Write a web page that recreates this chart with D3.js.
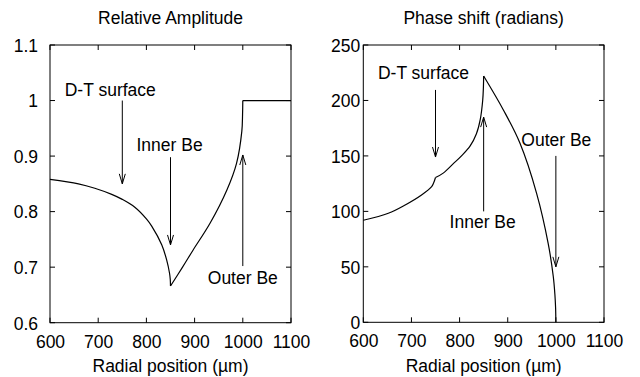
<!DOCTYPE html>
<html>
<head>
<meta charset="utf-8">
<script src="https://cdn.jsdelivr.net/npm/d3@7"></script>
<style>
  html, body { margin: 0; padding: 0; background: #fff; }
  svg { display: block; }
  text { font-family: "Liberation Sans", Arial, Helvetica, sans-serif; fill: #000; }
</style>
</head>
<body>
<svg id="chart" width="640" height="377"></svg>
<script>
// Radial profiles across the capsule shell
const radialTicks = [600, 700, 800, 900, 1000, 1100];

// Relative amplitude vs radial position (µm)
const ampX = [600, 659, 693, 728, 750, 776, 800, 811, 832, 842, 848, 849.5, 850,
              875, 897, 932, 967, 987, 998, 999.5, 1000, 1100];
const ampY = [0.858, 0.850, 0.842, 0.831, 0.822, 0.808, 0.787, 0.774, 0.740, 0.713, 0.689, 0.678, 0.666,
              0.700, 0.731, 0.779, 0.839, 0.887, 0.945, 0.975, 1.0, 1.0];
const ampBreaks = [850, 1000];
const ampTicks = [0.6, 0.7, 0.8, 0.9, 1.0, 1.1];
const ampTickLabels = ["0.6", "0.7", "0.8", "0.9", "1", "1.1"];

// Phase shift (radians) vs radial position (µm)
const phaseX = [600, 652, 687, 721, 742, 746, 750,
                766, 787, 805, 822, 835, 843, 848, 849.5, 850,
                891, 925.5, 960, 984, 994.7, 998, 999.5, 1000];
const phaseY = [92, 98.3, 105.8, 114.8, 122.3, 125.5, 130.5,
                134.5, 143, 150.5, 159, 170, 183, 200, 212, 222,
                191.4, 161.4, 116.3, 71.2, 41.1, 25, 12.6, 0];
const phaseBreaks = [750, 850];
const phaseTicks = [0, 50, 100, 150, 200, 250];
const phaseTickLabels = ["0", "50", "100", "150", "200", "250"];

// Annotations: text position and arrow (x, from y, to y) in data units
const ampNotes = [
  { text: "D-T surface", tx: 725, ty: 1.009, ax: 750, ay1: 1.0, ay2: 0.85 },
  { text: "Inner Be",    tx: 848, ty: 0.91,  ax: 850, ay1: 0.898, ay2: 0.74 },
  { text: "Outer Be",    tx: 1000, ty: 0.67, ax: 1000, ay1: 0.702, ay2: 0.902 }
];
const phaseNotes = [
  { text: "D-T surface", tx: 725, ty: 219.5, ax: 750, ay1: 209.5, ay2: 149 },
  { text: "Inner Be",    tx: 848, ty: 84.8,  ax: 850, ay1: 100, ay2: 185 },
  { text: "Outer Be",    tx: 1001, ty: 159.2, ax: 1000, ay1: 150, ay2: 50 }
];

const svg = d3.select("#chart");

function panel(opt) {
  const x = d3.scaleLinear().domain([600, 1100]).range([opt.left, opt.right]);
  const y = d3.scaleLinear().domain(opt.yDomain).range([opt.bottom, opt.top]);
  const g = svg.append("g");

  // frame
  g.append("rect")
    .attr("x", opt.left).attr("y", opt.top)
    .attr("width", opt.right - opt.left).attr("height", opt.bottom - opt.top)
    .attr("fill", "none").attr("stroke", "#000").attr("stroke-width", 1);

  const tl = 5;
  // x ticks (inward, mirrored on top)
  const xa = d3.axisBottom(x).tickValues(radialTicks).tickSize(0).tickPadding(0)
    .tickFormat(d3.format("d"));
  const xg = g.append("g").attr("transform", `translate(0,${opt.bottom})`).call(xa);
  xg.select(".domain").remove();
  xg.selectAll("text").attr("y", 25).attr("dy", 0)
    .style("font-size", "17.5px").style("font-family", null);
  radialTicks.forEach(v => {
    g.append("line").attr("x1", x(v)).attr("x2", x(v)).attr("y1", opt.bottom).attr("y2", opt.bottom - tl).attr("stroke", "#000");
    g.append("line").attr("x1", x(v)).attr("x2", x(v)).attr("y1", opt.top).attr("y2", opt.top + tl).attr("stroke", "#000");
  });

  // y ticks (inward, mirrored on right)
  const ya = d3.axisLeft(y).tickValues(opt.yTicks).tickSize(0).tickPadding(0)
    .tickFormat((d, i) => opt.yLabels[i]);
  const yg = g.append("g").attr("transform", `translate(${opt.left},0)`).call(ya);
  yg.select(".domain").remove();
  yg.selectAll("text").attr("x", -opt.yLabelGap).attr("dy", "0.36em")
    .style("font-size", "17.5px").style("font-family", null);
  opt.yTicks.forEach(v => {
    g.append("line").attr("x1", opt.left).attr("x2", opt.left + tl).attr("y1", y(v)).attr("y2", y(v)).attr("stroke", "#000");
    g.append("line").attr("x1", opt.right).attr("x2", opt.right - tl).attr("y1", y(v)).attr("y2", y(v)).attr("stroke", "#000");
  });

  // title and x label
  const cx = (opt.left + opt.right) / 2;
  g.append("text").attr("x", cx).attr("y", 24).attr("text-anchor", "middle")
    .style("font-size", "17.5px").text(opt.title);
  g.append("text").attr("x", cx).attr("y", 372).attr("text-anchor", "middle")
    .style("font-size", "17.5px").text("Radial position (\u00b5m)");

  // curve, drawn piecewise so that the kinks stay sharp
  const pts = opt.xs.map((d, i) => [d, opt.ys[i]]);
  const cuts = [opt.xs[0], ...opt.breaks, opt.xs[opt.xs.length - 1]];
  const line = d3.line().x(d => x(d[0])).y(d => y(d[1])).curve(d3.curveCatmullRom.alpha(0.5));
  const pieces = [];
  for (let k = 0; k < cuts.length - 1; k++) {
    pieces.push(pts.filter(p => p[0] >= cuts[k] && p[0] <= cuts[k + 1]));
  }
  g.selectAll("path.curve").data(pieces).join("path")
    .attr("class", "curve")
    .attr("d", line)
    .attr("fill", "none").attr("stroke", "#000").attr("stroke-width", 1.2)
    .attr("stroke-linejoin", "round");

  // annotations
  opt.notes.forEach(n => {
    g.append("text").attr("x", x(n.tx)).attr("y", y(n.ty)).attr("text-anchor", "middle")
      .style("font-size", "17.5px").text(n.text);
    const ax = x(n.ax), y1 = y(n.ay1), y2 = y(n.ay2);
    const dir = y2 > y1 ? 1 : -1;
    g.append("line").attr("x1", ax).attr("x2", ax).attr("y1", y1).attr("y2", y2)
      .attr("stroke", "#000").attr("stroke-width", 1);
    g.append("path")
      .attr("d", `M${ax - 3},${y2 - dir * 10}L${ax},${y2}L${ax + 3},${y2 - dir * 10}`)
      .attr("fill", "none").attr("stroke", "#000").attr("stroke-width", 1);
  });
}

panel({
  left: 50, right: 291, top: 45, bottom: 322.7,
  yDomain: [0.6, 1.1], yTicks: ampTicks, yLabels: ampTickLabels, yLabelGap: 12,
  title: "Relative Amplitude", xs: ampX, ys: ampY, breaks: ampBreaks, notes: ampNotes
});

panel({
  left: 363.3, right: 604, top: 45, bottom: 322.3,
  yDomain: [0, 250], yTicks: phaseTicks, yLabels: phaseTickLabels, yLabelGap: 3,
  title: "Phase shift (radians)", xs: phaseX, ys: phaseY, breaks: phaseBreaks, notes: phaseNotes
});
</script>
</body>
</html>
